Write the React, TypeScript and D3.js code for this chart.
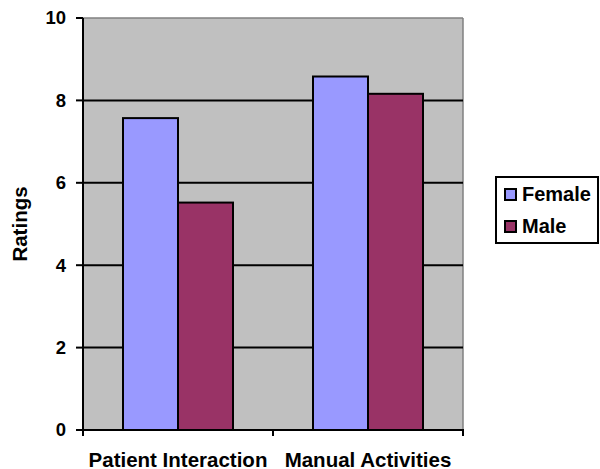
import React from "react";
import * as d3 from "d3";

const categories = ["Patient Interaction", "Manual Activities"];
const seriesNames = ["Female", "Male"];
const femaleValues = [7.57, 8.58];
const maleValues = [5.52, 8.16];
const yTicks = [0, 2, 4, 6, 8, 10];
const colors = ["#9999FF", "#993366"];

const W = 600;
const H = 469;
const plot = { left: 83, right: 463, top: 18, bottom: 430 };
const FONT = "'Liberation Sans', Arial, sans-serif";

export default function App() {
  const x0 = d3.scaleBand().domain(categories).range([plot.left, plot.right]).paddingInner(0).paddingOuter(0);
  const y = d3.scaleLinear().domain([0, 10]).range([plot.bottom, plot.top]);
  const groupW = 110;
  const x1 = d3.scaleBand().domain(seriesNames).range([0, groupW]);
  const values = [femaleValues, maleValues];

  return (
    <svg width={W} height={H} style={{ position: "absolute", left: 0, top: 0 }} fontFamily={FONT} fontWeight="bold">
      <rect x={0} y={0} width={W} height={H} fill="#fff" />
      <rect x={plot.left} y={plot.top} width={plot.right - plot.left} height={plot.bottom - plot.top} fill="#C0C0C0" />
      <line x1={plot.left} x2={plot.right} y1={plot.top} y2={plot.top} stroke="#808080" strokeWidth={1.5} />
      <line x1={plot.right} x2={plot.right} y1={plot.top} y2={plot.bottom} stroke="#808080" strokeWidth={1.5} />
      {yTicks.filter(t => t > 0 && t < 10).map(t => (
        <line key={t} x1={plot.left} x2={plot.right} y1={y(t)} y2={y(t)} stroke="#000" strokeWidth={2} />
      ))}
      {categories.map((c, ci) => {
        const gx = (x0(c) as number) + (x0.bandwidth() - groupW) / 2;
        return seriesNames.map((s, si) => (
          <rect key={c + s} x={gx + (x1(s) as number)} y={y(values[si][ci])} width={x1.bandwidth()}
            height={plot.bottom - y(values[si][ci])} fill={colors[si]} stroke="#000" strokeWidth={2} />
        ));
      })}
      <line x1={plot.left} x2={plot.left} y1={plot.top} y2={plot.bottom + 1} stroke="#000" strokeWidth={2} />
      <line x1={plot.left - 1} x2={plot.right + 1} y1={plot.bottom} y2={plot.bottom} stroke="#000" strokeWidth={2} />
      {yTicks.map(t => (
        <g key={t}>
          <line x1={plot.left - 7} x2={plot.left} y1={y(t)} y2={y(t)} stroke="#000" strokeWidth={2} />
          <text x={66} y={y(t)} dy="0.35em" textAnchor="end" fontSize={18.5}>{t}</text>
        </g>
      ))}
      {[...categories.map(c => x0(c) as number), plot.right].map((xv, i) => (
        <line key={i} x1={xv} x2={xv} y1={plot.bottom} y2={plot.bottom + 6} stroke="#000" strokeWidth={2} />
      ))}
      {categories.map(c => (
        <text key={c} x={(x0(c) as number) + x0.bandwidth() / 2} y={466.5} textAnchor="middle" fontSize={20.5}>{c}</text>
      ))}
      <text transform={`translate(27,${(plot.top + plot.bottom) / 2}) rotate(-90)`} textAnchor="middle" fontSize={20.5}>Ratings</text>
      <rect x={496} y={177} width={102} height={66} fill="#fff" stroke="#000" strokeWidth={2} />
      {seriesNames.map((s, i) => (
        <g key={s}>
          <rect x={505} y={189 + i * 32} width={11} height={11} fill={colors[i]} stroke="#000" strokeWidth={2} />
          <text x={522} y={201 + i * 32} fontSize={20}>{s}</text>
        </g>
      ))}
    </svg>
  );
}
